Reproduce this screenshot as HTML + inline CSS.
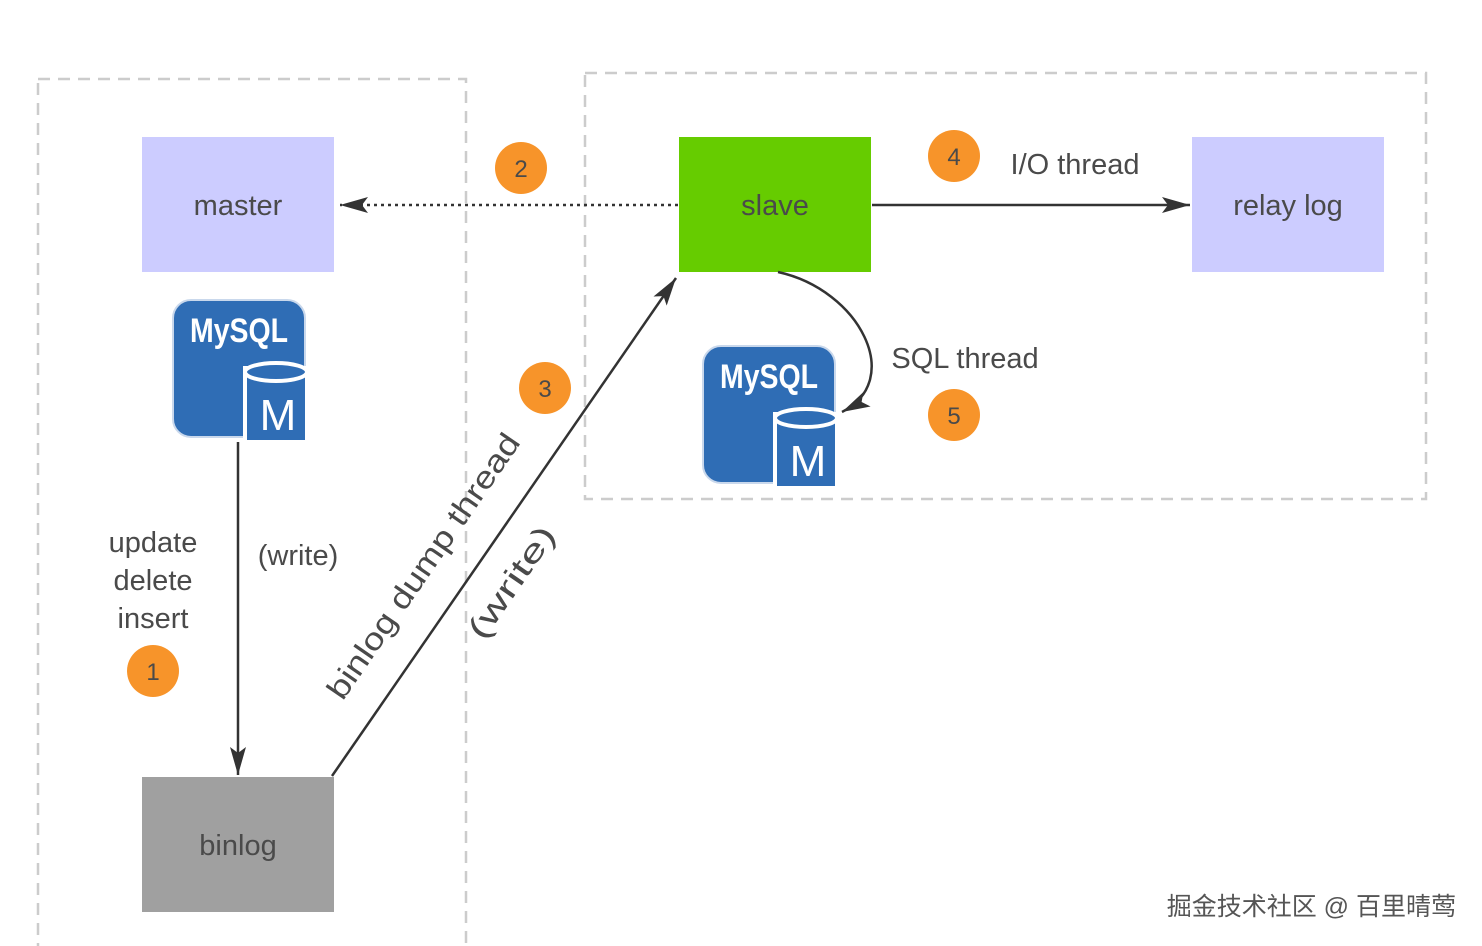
<!DOCTYPE html>
<html><head><meta charset="utf-8"><style>
html,body{margin:0;padding:0;background:#fff;}
svg{display:block;}
text{font-family:"Liberation Sans","Noto Sans CJK SC",sans-serif;fill:#4a4a4a;}
</style></head><body>
<svg width="1482" height="946" viewBox="0 0 1482 946" xmlns="http://www.w3.org/2000/svg">
<defs>
<marker id="ah2" markerWidth="30" markerHeight="20" refX="28" refY="10" orient="auto" markerUnits="userSpaceOnUse">
<path d="M0,2 L28,10 L0,18 L6,10 z" fill="#333"/></marker>
<g id="mysql">
<rect x="0" y="0" width="132" height="137" rx="18" fill="#2f6db5" stroke="#c9d8ec" stroke-width="2"/>
<text x="66" y="42" text-anchor="middle" font-size="34" font-weight="bold" style="fill:#fff" textLength="98" lengthAdjust="spacingAndGlyphs">MySQL</text>
<rect x="72" y="68" width="62" height="74" fill="#2f6db5" stroke="#fff" stroke-width="4"/>
<ellipse cx="103" cy="72" rx="31" ry="9" fill="#2f6db5" stroke="#fff" stroke-width="4"/>
<text x="105" y="130" text-anchor="middle" font-size="44" style="fill:#fff">M</text>
</g>
</defs>
<rect x="38" y="79" width="428" height="880" fill="none" stroke="#ccc" stroke-width="2.5" stroke-dasharray="12,8"/>
<rect x="585" y="73" width="841" height="426" fill="none" stroke="#ccc" stroke-width="2.5" stroke-dasharray="12,8"/>
<rect x="142" y="137" width="192" height="135" fill="#ccccff"/>
<text x="238" y="215" text-anchor="middle" font-size="29">master</text>
<rect x="679" y="137" width="192" height="135" fill="#66cc00"/>
<text x="775" y="215" text-anchor="middle" font-size="29">slave</text>
<rect x="1192" y="137" width="192" height="135" fill="#ccccff"/>
<text x="1288" y="215" text-anchor="middle" font-size="29">relay log</text>
<rect x="142" y="777" width="192" height="135" fill="#a0a0a0"/>
<text x="238" y="855" text-anchor="middle" font-size="29">binlog</text>
<use href="#mysql" x="173" y="300"/>
<use href="#mysql" x="703" y="346"/>
<line x1="678" y1="205" x2="340" y2="205" stroke="#333" stroke-width="2.5" stroke-dasharray="3,4" marker-end="url(#ah2)"/>
<line x1="872" y1="205" x2="1190" y2="205" stroke="#333" stroke-width="2.5" marker-end="url(#ah2)"/>
<line x1="238" y1="442" x2="238" y2="775" stroke="#333" stroke-width="2.5" marker-end="url(#ah2)"/>
<line x1="332" y1="776" x2="676" y2="278" stroke="#333" stroke-width="2.5" marker-end="url(#ah2)"/>
<path d="M778,272 C860,290 905,380 842,412" fill="none" stroke="#333" stroke-width="2.5" marker-end="url(#ah2)"/>
<text x="1075" y="174" text-anchor="middle" font-size="29">I/O thread</text>
<text x="965" y="368" text-anchor="middle" font-size="29">SQL thread</text>
<text x="153" y="552" text-anchor="middle" font-size="29">update</text>
<text x="153" y="590" text-anchor="middle" font-size="29">delete</text>
<text x="153" y="628" text-anchor="middle" font-size="29">insert</text>
<text x="298" y="565" text-anchor="middle" font-size="29">(write)</text>
<text transform="translate(432,572) rotate(-55.4)" text-anchor="middle" font-size="31" textLength="315" lengthAdjust="spacingAndGlyphs">binlog dump thread</text>
<text transform="translate(520,588) rotate(-55.4)" text-anchor="middle" font-size="31" textLength="130" lengthAdjust="spacingAndGlyphs">(write)</text>
<g font-size="24" text-anchor="middle">
<circle cx="521" cy="168" r="26" fill="#f7942a"/><text x="521" y="177">2</text>
<circle cx="954" cy="156" r="26" fill="#f7942a"/><text x="954" y="165">4</text>
<circle cx="545" cy="388" r="26" fill="#f7942a"/><text x="545" y="397">3</text>
<circle cx="954" cy="415" r="26" fill="#f7942a"/><text x="954" y="424">5</text>
<circle cx="153" cy="671" r="26" fill="#f7942a"/><text x="153" y="680">1</text>
</g>
<text x="1456" y="915" text-anchor="end" font-size="25" style="fill:#555">掘金技术社区 @ 百里晴莺</text>
</svg>
</body></html>
